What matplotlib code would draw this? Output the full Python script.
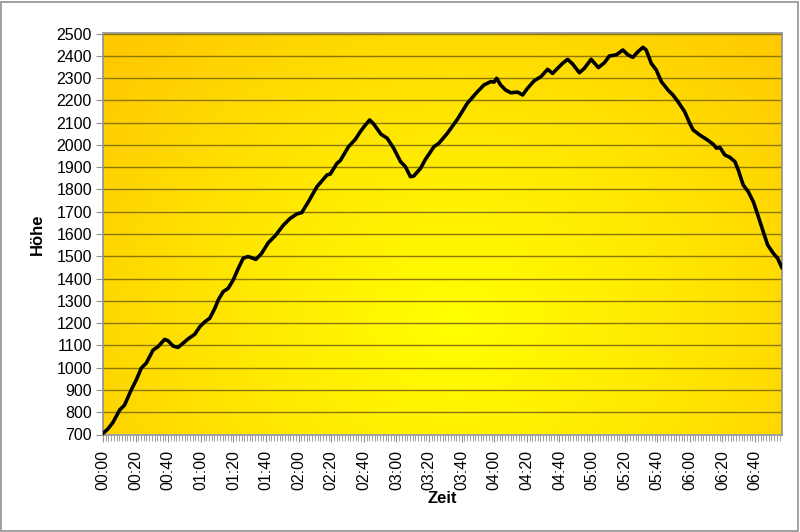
import numpy as np
import matplotlib
matplotlib.use("Agg")
import matplotlib.pyplot as plt
from matplotlib.patches import Rectangle
from matplotlib.colors import LinearSegmentedColormap

plt.rcParams['font.family'] = ['Liberation Sans', 'DejaVu Sans']

# time in minutes since start, altitude in m
minutes = [0, 3, 6, 10.2, 13.2, 17.3, 20.4, 23.5, 26.6, 30.7, 33.7, 37.8, 39.9, 43, 46, 49, 52,
           56.3, 59.4, 62.5, 65.5, 68.6, 70.7, 73.7, 76.8, 79.9, 83, 86, 89, 93.8, 97.3, 101.4,
           105.5, 110.7, 114.8, 118.9, 121.9, 126, 131.2, 137.4, 139.4, 143.5, 145.5, 150.6,
           154.8, 157.8, 160.9, 163.6, 166, 170.5, 174.3, 178.3, 182.5, 185.5, 188.6, 190.6,
           194.8, 197.8, 203, 206, 211.2, 217.4, 223.5, 229.7, 233.7, 237.8, 239.9, 241.5,
           243.9, 247, 250.2, 254.3, 257.4, 260.4, 264.5, 268.6, 272.7, 275.8, 278.9, 281.9,
           285, 288.1, 292.2, 295.3, 299.4, 303.9, 307.6, 310.6, 314.8, 318.9, 322, 325, 328.1,
           331.2, 333.2, 336.3, 339.4, 342.5, 346.6, 349.6, 352.7, 356.8, 359.9, 362, 366.1,
           370.2, 374.3, 376.3, 378.4, 381.4, 384.5, 387.6, 389.7, 392.7, 395.8, 398.9, 402,
           405, 407.7, 411.2, 413.8, 416.3]
hoehe = [705, 725, 753, 810, 832, 900, 945, 998, 1021, 1079, 1094, 1127, 1121, 1097, 1091, 1109, 1128,
         1150, 1184, 1206, 1222, 1266, 1304, 1341, 1356, 1394, 1446, 1491, 1499, 1486, 1513, 1561,
         1591, 1640, 1670, 1690, 1696, 1745, 1812, 1865, 1869, 1917, 1929, 1992,
         2025, 2059, 2089, 2112, 2094, 2048, 2030, 1985, 1925, 1902, 1857, 1860,
         1895, 1935, 1992, 2007, 2052, 2115, 2187, 2239, 2269, 2284, 2282, 2299,
         2269, 2246, 2234, 2237, 2224, 2254, 2288, 2306, 2339, 2321, 2344, 2366,
         2384, 2363, 2324, 2344, 2384, 2347, 2369, 2399, 2404, 2426, 2404, 2393, 2418,
         2438, 2426, 2366, 2336, 2284, 2246, 2224, 2194, 2149, 2097, 2067, 2044,
         2025, 2003, 1985, 1989, 1955, 1944, 1925, 1887, 1820, 1790, 1745, 1678,
         1610, 1551, 1513, 1491, 1451]

xtick_minutes = list(range(0, 401, 20))
xtick_labels = ["%02d:%02d" % (m // 60, m % 60) for m in xtick_minutes]
ytick_values = list(range(700, 2501, 100))

fig = plt.figure(figsize=(8.0, 5.32), dpi=100, facecolor='white')
ax = fig.add_axes([103 / 800, 1 - 434.5 / 532, (782 - 103) / 800, (434.5 - 33.5) / 532])

xmax = 416.5
ax.set_xlim(0, xmax)
ax.set_ylim(700, 2500)

# radial gradient background
W, H = 680, 401
yy, xx = np.mgrid[0:H, 0:W]
cx, cy = 0.52 * W, 0.72 * H  # image rows from top
d = np.sqrt((xx - cx) ** 2 + ((yy - cy) * 1.15) ** 2) / 470.0
d = np.clip(d, 0, 1)
cmap = LinearSegmentedColormap.from_list('yg', ['#FFFF00', '#FFE600', '#FFC800'])
ax.imshow(d, cmap=cmap, vmin=0, vmax=1, extent=[0, xmax, 700, 2500], origin='upper',
          aspect='auto', zorder=0, interpolation='bilinear')

for v in ytick_values[1:]:
    ax.axhline(v, color='#8C7800', lw=1.0, zorder=1)

ax.plot(minutes, hoehe, color='black', lw=2.6, zorder=3, solid_joinstyle='round')

ax.set_yticks(ytick_values)
ax.set_yticklabels([str(v) for v in ytick_values], fontsize=11.5)
ax.set_xticks(xtick_minutes)
ax.set_xticklabels(xtick_labels, rotation=90, fontsize=11.5)
ax.set_xticks(np.arange(0, xmax, 100 / 60), minor=True)
ax.tick_params(axis='x', which='major', length=5, color='#909090', pad=6)
ax.tick_params(axis='x', which='minor', length=4, color='#909090')
ax.tick_params(axis='y', length=5, color='#909090', pad=3)

for s in ax.spines.values():
    s.set_color('#909090')
    s.set_linewidth(1.2)

ax.set_xlabel('Zeit', fontsize=12, fontweight='bold', labelpad=1)
ax.set_ylabel('Höhe', fontsize=12, fontweight='bold', labelpad=8)

fig.patches.append(Rectangle((0.5 / 800, 1.5 / 532), 797 / 800, 529 / 532, transform=fig.transFigure,
                             fill=False, edgecolor='#909090', lw=1.2))

fig.savefig('out.png', dpi=100, facecolor='white')
